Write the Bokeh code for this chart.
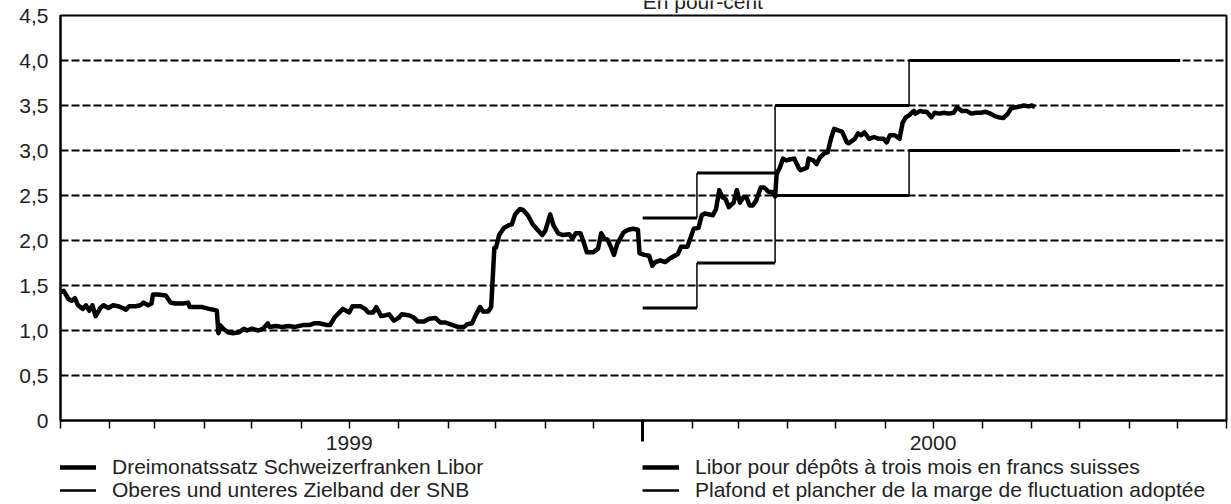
from datetime import datetime
import pandas as pd
from bokeh.plotting import figure
from bokeh.layouts import column
from bokeh.models import (ColumnDataSource, Range1d, FixedTicker, CustomJSTickFormatter,
                          Legend, LegendItem, Label)
from bokeh.embed import file_html
from bokeh.resources import INLINE

# ---------------- data ----------------
libor_dates = [
    "1999-01-01", "1999-01-03", "1999-01-06", "1999-01-08", "1999-01-10", "1999-01-12",
    "1999-01-15", "1999-01-17", "1999-01-19", "1999-01-21", "1999-01-23", "1999-01-26",
    "1999-01-28", "1999-01-31", "1999-02-03", "1999-02-06", "1999-02-09", "1999-02-11",
    "1999-02-13", "1999-02-17", "1999-02-20", "1999-02-22", "1999-02-25", "1999-02-27",
    "1999-02-28", "1999-03-03", "1999-03-08", "1999-03-11", "1999-03-14", "1999-03-19",
    "1999-03-22", "1999-03-23", "1999-03-27", "1999-03-31", "1999-04-04", "1999-04-07",
    "1999-04-09", "1999-04-10", "1999-04-11", "1999-04-13", "1999-04-16", "1999-04-19",
    "1999-04-23", "1999-04-26", "1999-04-28", "1999-05-01", "1999-05-05", "1999-05-08",
    "1999-05-11", "1999-05-12", "1999-05-16", "1999-05-20", "1999-05-24", "1999-05-28",
    "1999-06-02", "1999-06-06", "1999-06-09", "1999-06-12", "1999-06-15", "1999-06-17",
    "1999-06-19", "1999-06-22", "1999-06-26", "1999-06-27", "1999-07-01", "1999-07-03",
    "1999-07-08", "1999-07-11", "1999-07-13", "1999-07-16", "1999-07-18", "1999-07-21",
    "1999-07-24", "1999-07-26", "1999-07-29", "1999-08-01", "1999-08-03", "1999-08-07",
    "1999-08-10", "1999-08-13", "1999-08-17", "1999-08-20", "1999-08-24", "1999-08-27",
    "1999-08-30", "1999-09-04", "1999-09-07", "1999-09-11", "1999-09-13", "1999-09-16",
    "1999-09-18", "1999-09-21", "1999-09-23", "1999-09-26", "1999-09-28", "1999-09-30",
    "1999-10-01", "1999-10-03", "1999-10-06", "1999-10-09", "1999-10-11", "1999-10-13",
    "1999-10-16", "1999-10-18", "1999-10-21", "1999-10-24", "1999-10-27", "1999-10-30",
    "1999-11-01", "1999-11-04", "1999-11-06", "1999-11-09", "1999-11-12", "1999-11-16",
    "1999-11-18", "1999-11-20", "1999-11-23", "1999-11-25", "1999-11-27", "1999-12-01",
    "1999-12-04", "1999-12-06", "1999-12-08", "1999-12-10", "1999-12-12", "1999-12-14",
    "1999-12-16", "1999-12-20", "1999-12-23", "1999-12-26", "1999-12-29", "1999-12-30",
    "2000-01-02", "2000-01-05", "2000-01-07", "2000-01-09", "2000-01-12", "2000-01-15",
    "2000-01-18", "2000-01-20", "2000-01-23", "2000-01-25", "2000-01-29", "2000-01-30",
    "2000-02-02", "2000-02-05", "2000-02-07", "2000-02-09", "2000-02-14", "2000-02-16",
    "2000-02-18", "2000-02-20", "2000-02-22", "2000-02-24", "2000-02-27", "2000-02-29",
    "2000-03-02", "2000-03-04", "2000-03-06", "2000-03-08", "2000-03-10", "2000-03-12",
    "2000-03-15", "2000-03-17", "2000-03-20", "2000-03-22", "2000-03-24", "2000-03-25",
    "2000-03-27", "2000-03-29", "2000-03-31", "2000-04-02", "2000-04-05", "2000-04-08",
    "2000-04-09", "2000-04-13", "2000-04-14", "2000-04-17", "2000-04-19", "2000-04-21",
    "2000-04-24", "2000-04-26", "2000-04-28", "2000-04-30", "2000-05-03", "2000-05-05",
    "2000-05-08", "2000-05-09", "2000-05-13", "2000-05-15", "2000-05-17", "2000-05-19",
    "2000-05-22", "2000-05-25", "2000-05-28", "2000-05-31", "2000-06-02", "2000-06-04",
    "2000-06-07", "2000-06-10", "2000-06-12", "2000-06-14", "2000-06-16", "2000-06-19",
    "2000-06-20", "2000-06-23", "2000-06-25", "2000-06-27", "2000-06-30", "2000-07-02",
    "2000-07-05", "2000-07-08", "2000-07-11", "2000-07-14", "2000-07-16", "2000-07-19",
    "2000-07-22", "2000-07-25", "2000-07-28", "2000-07-31", "2000-08-03", "2000-08-06",
    "2000-08-09", "2000-08-11", "2000-08-14", "2000-08-17", "2000-08-19", "2000-08-22",
    "2000-08-25", "2000-08-27", "2000-08-30", "2000-09-01", "2000-09-03",
]
libor_values = [
    1.43, 1.44, 1.35, 1.33, 1.36, 1.28,
    1.24, 1.28, 1.22, 1.28, 1.16, 1.25,
    1.28, 1.25, 1.28, 1.27, 1.25, 1.23,
    1.27, 1.27, 1.28, 1.31, 1.28, 1.30,
    1.40, 1.40, 1.39, 1.31, 1.30, 1.30,
    1.31, 1.26, 1.26, 1.26, 1.24, 1.23,
    1.22, 0.97, 1.06, 1.02, 0.98, 0.97,
    0.98, 1.02, 1.00, 1.02, 1.00, 1.02,
    1.08, 1.04, 1.05, 1.04, 1.05, 1.04,
    1.06, 1.06, 1.08, 1.08, 1.07, 1.06,
    1.06, 1.15, 1.22, 1.24, 1.20, 1.27,
    1.27, 1.24, 1.20, 1.20, 1.26, 1.16,
    1.17, 1.18, 1.11, 1.14, 1.18, 1.17,
    1.15, 1.10, 1.10, 1.13, 1.14, 1.09,
    1.09, 1.06, 1.04, 1.04, 1.07, 1.08,
    1.16, 1.26, 1.21, 1.21, 1.26, 1.92,
    1.92, 2.06, 2.14, 2.17, 2.18, 2.29,
    2.35, 2.34, 2.28, 2.18, 2.12, 2.06,
    2.11, 2.29, 2.17, 2.08, 2.06, 2.07,
    2.02, 2.08, 2.08, 1.98, 1.87, 1.87,
    1.91, 2.08, 2.02, 2.01, 1.93, 1.84,
    1.96, 2.09, 2.12, 2.13, 2.12, 1.86,
    1.84, 1.83, 1.72, 1.76, 1.78, 1.76,
    1.80, 1.82, 1.85, 1.93, 1.93, 1.98,
    2.13, 2.14, 2.28, 2.30, 2.28, 2.35,
    2.56, 2.48, 2.46, 2.37, 2.42, 2.56,
    2.42, 2.48, 2.48, 2.39, 2.39, 2.44,
    2.59, 2.59, 2.54, 2.54, 2.49, 2.74,
    2.81, 2.91, 2.89, 2.90, 2.91, 2.80,
    2.78, 2.81, 2.91, 2.89, 2.85, 2.92,
    2.97, 2.98, 3.13, 3.24, 3.22, 3.21,
    3.09, 3.08, 3.13, 3.19, 3.17, 3.20,
    3.13, 3.15, 3.13, 3.13, 3.09, 3.17,
    3.17, 3.13, 3.31, 3.37, 3.39, 3.44,
    3.41, 3.44, 3.43, 3.43, 3.37, 3.42,
    3.41, 3.42, 3.41, 3.42, 3.48, 3.44,
    3.44, 3.41, 3.42, 3.42, 3.43, 3.41,
    3.38, 3.37, 3.36, 3.41, 3.47, 3.48,
    3.49, 3.50, 3.49, 3.50, 3.48,
]

band_start = ["2000-01-01", "2000-02-04", "2000-03-24", "2000-06-16"]
band_end = ["2000-02-04", "2000-03-24", "2000-06-16", "2000-12-03"]
band_lower = [1.25, 1.75, 2.50, 3.00]
band_upper = [2.25, 2.75, 3.50, 4.00]

y_ticks = [0, 0.5, 1.0, 1.5, 2.0, 2.5, 3.0, 3.5, 4.0, 4.5]
year_label_dates = ["1999-07-01", "2000-07-01"]
year_label_texts = ["1999", "2000"]
year_break = ["2000-01-01"]
title_text = "En pour-cent"
title_date = "2000-01-01"
legend_texts = [
    "Dreimonatssatz Schweizerfranken Libor",
    "Libor pour dépôts à trois mois en francs suisses",
    "Oberes und unteres Zielband der SNB",
    "Plafond et plancher de la marge de fluctuation adoptée",
]

# ---------------- helpers ----------------
def to_ms(values):
    return [float(v) for v in (pd.to_datetime(values).asi8 / 1e6)]

FONT = "Liberation Sans"
FS = "21px"
TXT = "#222222"
W = 1231
LIBOR_W = 4.5
BAND_W = 3
OVERLAP = 13
LEG_OVERLAP = 8

libor_src = ColumnDataSource(dict(x=pd.to_datetime(libor_dates), y=libor_values))
bs = pd.to_datetime(band_start)
be = pd.to_datetime(band_end)
band_h = ColumnDataSource(dict(
    x0=list(bs) + list(bs), x1=list(be) + list(be),
    y=band_lower + band_upper))
band_v = ColumnDataSource(dict(
    x=list(bs[1:]) + list(bs[1:]),
    y0=band_lower[:-1] + band_upper[:-1],
    y1=band_lower[1:] + band_upper[1:]))

x_range = Range1d(datetime(1999, 1, 1), datetime(2001, 1, 1))

# ---------------- title strip (text cut at the top, as in the reference) ----------------
pt = figure(width=W, height=15, output_backend="svg", toolbar_location=None,
            x_axis_type="datetime", x_range=x_range, y_range=Range1d(0, 15),
            x_axis_location=None, y_axis_location=None,
            min_border_left=60, min_border_right=5, min_border_top=0, min_border_bottom=0)
pt.outline_line_color = None
pt.grid.grid_line_color = None
pt.add_layout(Label(x=to_ms([title_date])[0], y=14, text=title_text,
                    text_align="left", text_baseline="alphabetic",
                    text_font=FONT, text_font_size=FS, text_color=TXT))

# ---------------- main chart (its transparent top border overlaps the title strip) ----------------
p = figure(width=W, height=418 + 39, output_backend="svg", toolbar_location=None,
           x_axis_type="datetime", x_range=x_range, y_range=Range1d(0, 4.5),
           min_border_left=60, min_border_top=OVERLAP, min_border_right=5,
           min_border_bottom=39, margin=(-OVERLAP, 0, 0, 0))
p.outline_line_color = "black"
p.outline_line_width = 2
p.background_fill_color = "white"
p.border_fill_alpha = 0

p.xgrid.grid_line_color = None
p.ygrid.grid_line_color = "black"
p.ygrid.grid_line_dash = "8 3"
p.ygrid.grid_line_width = 2

p.yaxis.ticker = FixedTicker(ticks=y_ticks)
p.yaxis.formatter = CustomJSTickFormatter(
    code="return tick == 0 ? '0' : tick.toFixed(1).replace('.', ',');")
p.yaxis.major_tick_out = 0
p.yaxis.major_tick_in = 0
p.yaxis.minor_tick_line_color = None
p.yaxis.axis_line_width = 2
p.yaxis.major_label_standoff = 12
p.yaxis.major_label_text_font = FONT
p.yaxis.major_label_text_font_size = FS
p.yaxis.major_label_text_color = TXT

month_ticks = to_ms(pd.date_range("1999-01-01", "2001-01-01", freq="MS"))
p.xaxis.ticker = FixedTicker(ticks=month_ticks, minor_ticks=to_ms(year_break))
p.xaxis.formatter = CustomJSTickFormatter(
    args=dict(lt=to_ms(year_label_dates), lx=year_label_texts),
    code="for (let i = 0; i < lt.length; i++) { if (Math.abs(tick - lt[i]) < 3.6e6) return lx[i]; } return '';")
p.xaxis.major_tick_out = 8
p.xaxis.major_tick_in = 0
p.xaxis.major_tick_line_width = 1.5
p.xaxis.minor_tick_out = 21
p.xaxis.minor_tick_in = 0
p.xaxis.minor_tick_line_width = 3
p.xaxis.axis_line_width = 2
p.xaxis.major_label_standoff = -6
p.xaxis.major_label_text_font = FONT
p.xaxis.major_label_text_font_size = FS
p.xaxis.major_label_text_color = TXT

p.segment(x0="x0", x1="x1", y0="y", y1="y", source=band_h,
          line_color="black", line_width=BAND_W)
p.segment(x0="x", x1="x", y0="y0", y1="y1", source=band_v,
          line_color="black", line_width=1.5)
p.line("x", "y", source=libor_src, line_color="black", line_width=LIBOR_W,
       line_join="round")

# ---------------- legend strip (transparent, slightly overlapping the axis area) ----------------
pl = figure(width=W, height=45 + LEG_OVERLAP, output_backend="svg", toolbar_location=None,
            x_range=Range1d(0, 1), y_range=Range1d(0, 1),
            x_axis_location=None, y_axis_location=None,
            min_border_left=60, min_border_right=5, min_border_top=0, min_border_bottom=0,
            margin=(-LEG_OVERLAP, 0, 0, 0))
pl.outline_line_color = None
pl.grid.grid_line_color = None
pl.background_fill_alpha = 0
pl.border_fill_alpha = 0
# key glyphs only (their points lie outside the visible range)
key_libor = pl.line(x=[5, 6], y=[5, 6], line_color="black", line_width=LIBOR_W)
key_band = pl.line(x=[5, 6], y=[5, 6], line_color="black", line_width=BAND_W - 0.5)

common = dict(orientation="horizontal", glyph_width=37, glyph_height=20, label_height=20,
              label_width=530, label_standoff=16, spacing=0, padding=0, margin=0,
              border_line_color=None, background_fill_alpha=0,
              label_text_font=FONT, label_text_font_size=FS, label_text_color=TXT)
leg1 = Legend(items=[LegendItem(label=legend_texts[0], renderers=[key_libor]),
                     LegendItem(label=legend_texts[1], renderers=[key_libor])],
              location=(-1, 25), **common)
leg2 = Legend(items=[LegendItem(label=legend_texts[2], renderers=[key_band]),
                     LegendItem(label=legend_texts[3], renderers=[key_band])],
              location=(-1, 2), **common)
pl.add_layout(leg1)
pl.add_layout(leg2)

layout = column(pt, p, pl, spacing=0)
open("out.html", "w").write(file_html(layout, INLINE))
